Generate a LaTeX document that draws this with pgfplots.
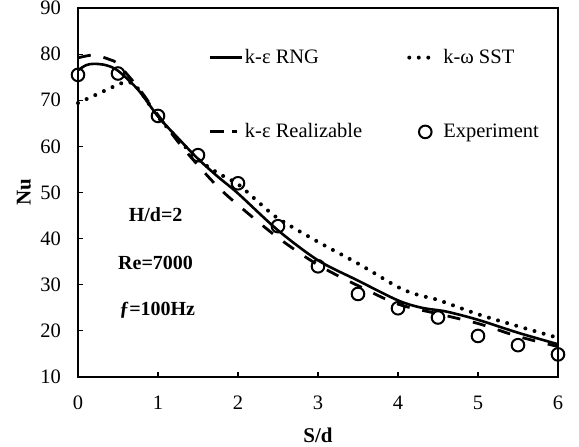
\documentclass[border=0pt]{standalone}
\usepackage{fontspec}
\setmainfont{Liberation Serif}
\usepackage{pgfplots}
\pgfplotsset{compat=1.18}

% legend samples, all 32pt wide
\pgfplotsset{
  leg solid/.style={legend image code/.code={\draw[##1] (0pt,0pt) -- (32pt,0pt);}},
  leg dotted/.style={legend image code/.code={\path[draw=none] (0pt,0pt) -- (32pt,0pt); \draw[##1] (0pt,0pt) -- (28pt,0pt);}},
  leg dashed/.style={legend image code/.code={\path[draw=none] (0pt,0pt) -- (32pt,0pt); \draw[##1, dash pattern=on 14pt off 8pt] (0pt,0pt) -- (27pt,0pt);}},
  leg mark/.style={legend image code/.code={\path[draw=none] (0pt,0pt) -- (32pt,0pt); \draw[##1] plot[only marks] coordinates {(16pt,0pt)};}},
}

% Nusselt number along the target plate
\pgfplotstableread{
x    nu
0    76.5
0.1  77.6
0.2  77.9
0.35 77.6
0.5  76.4
0.75 72.3
1.0  66.5
1.25 61.8
1.5  57.3
1.75 53.4
2.0  49.8
2.5  41.8
3.0  35.3
3.5  30.9
4.0  26.6
4.3  25.0
4.6  24.2
5.0  22.4
5.5  19.6
6.0  17.1
}\rng

\pgfplotstableread{
x    nu
0    69.4
0.15 70.6
0.3  71.8
0.45 73.0
0.6  74.0
0.7  73.4
0.8  71.4
1.0  66.4
1.25 61.6
1.5  57.2
1.75 54.2
2.0  51.8
2.25 48.0
2.5  44.4
3.0  39.3
3.5  34.6
4.0  29.5
4.25 27.8
4.5  26.7
5.0  23.6
5.5  21.0
6.0  18.5
}\sst

\pgfplotstableread{
x    nu
0    79.2
0.2  79.8
0.4  78.8
0.5  77.8
0.75 72.8
1.0  66.8
1.25 61.0
1.5  55.9
1.75 51.2
2.0  47.3
2.5  40.2
3.0  34.3
3.5  29.8
4.0  25.8
4.5  23.7
5.0  21.6
5.5  18.8
6.0  16.6
}\rlz

\pgfplotstableread{
x    nu
0    75.5
0.5  75.8
1.0  66.6
1.5  58.1
2.0  52.0
2.5  42.7
3.0  34.0
3.5  28.0
4.0  24.9
4.5  22.9
5.0  18.9
5.5  16.9
6.0  14.9
}\expt

\begin{document}
\fontsize{20.5}{24}\selectfont
\begin{tikzpicture}
\path[use as bounding box] (-78pt,-70pt) rectangle (501pt,377pt);
\begin{axis}[
  at={(0pt,0pt)}, anchor=south west,
  scale only axis, width=480pt, height=369pt,
  xmin=0, xmax=6, ymin=10, ymax=90,
  xtick={0,1,...,6}, ytick={10,20,...,90},
  tick align=inside, xtick pos=bottom, ytick pos=left,
  major tick length=5pt,
  axis line style={line width=1.2pt},
  every tick/.style={line width=1.2pt, black},
  /pgf/number format/assume math mode=true,
  font=\fontsize{20.5}{24}\selectfont,
  tick label style={font=\fontsize{20.5}{24}\selectfont},
  yticklabel style={xshift=-10pt},
  xticklabel style={yshift=-12pt},
  xlabel={\textbf{S/d}}, ylabel={\textbf{Nu}},
  every axis x label/.style={at={(axis description cs:0.5,-0.157)}, anchor=center, font=\fontsize{21}{25}\selectfont},
  every axis y label/.style={at={(axis description cs:-0.1125,0.5)}, rotate=90, anchor=center, font=\fontsize{21}{25}\selectfont},
  clip=false,
  legend columns=2,
  legend cell align=left,
  legend style={draw=none, fill=none, inner sep=0pt,
    at={(axis description cs:0.271,0.895)}, anchor=north west,
    row sep=53pt,
    /tikz/every even column/.append style={column sep=43pt},
    font=\fontsize{20.5}{24}\selectfont},
]
\addplot[black, line width=2.6pt, smooth, leg solid]
  table[x=x, y=nu] {\rng};
\addlegendentry{k-ε RNG}

\addplot[black, line width=4pt, line cap=round, dash pattern=on 0pt off 9.5pt, smooth, leg dotted]
  table[x=x, y=nu] {\sst};
\addlegendentry{k-ω SST}

\addplot[black, line width=2.8pt, dash pattern=on 13pt off 13pt, smooth, leg dashed]
  table[x=x, y=nu] {\rlz};
\addlegendentry{k-ε Realizable}

\addplot[black, only marks, mark=o, mark size=6.3pt, mark options={line width=2pt}, leg mark]
  table[x=x, y=nu] {\expt};
\addlegendentry{Experiment}

\node[font=\bfseries\fontsize{20}{24}\selectfont] at (axis cs:0.97,45.1) {H/d=2};
\node[font=\bfseries\fontsize{20}{24}\selectfont] at (axis cs:0.97,34.8) {Re=7000};
\node[font=\bfseries\fontsize{20}{24}\selectfont] at (axis cs:0.99,24.5) {ƒ=100Hz};
\end{axis}
\end{tikzpicture}
\end{document}
